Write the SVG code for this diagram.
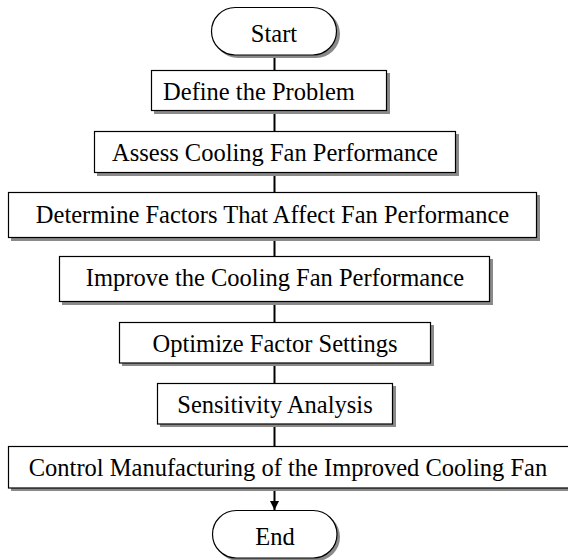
<svg xmlns="http://www.w3.org/2000/svg" width="568" height="560" viewBox="0 0 568 560">
<defs>
<style>
.sh{fill:#8a8a8a;stroke:none}
.bx{fill:#fff;stroke:#000;stroke-width:1.2}
.t{font-family:"Liberation Serif","Times New Roman",serif;font-size:24.5px;fill:#000;text-anchor:middle}
.c{stroke:#000;stroke-width:2;fill:none}
</style>
<marker id="ah" viewBox="0 0 10 10" refX="10" refY="5" markerWidth="4.5" markerHeight="4.5" orient="auto" markerUnits="strokeWidth">
<path d="M0,0 L10,5 L0,10 z" fill="#000"/>
</marker>
</defs>
<rect width="568" height="560" fill="#fff"/>
<g id="connectors">
<line class="c" x1="274.5" y1="55" x2="274.5" y2="70"/>
<line class="c" x1="274.5" y1="111" x2="274.5" y2="131"/>
<line class="c" x1="274.5" y1="173" x2="274.5" y2="192"/>
<line class="c" x1="274.5" y1="238" x2="274.5" y2="256"/>
<line class="c" x1="274.5" y1="302" x2="274.5" y2="322"/>
<line class="c" x1="274.5" y1="363" x2="274.5" y2="383"/>
<line class="c" x1="274.5" y1="424" x2="274.5" y2="446"/>
<line class="c" x1="274.5" y1="488" x2="274.5" y2="510" marker-end="url(#ah)"/>
</g>
<g id="start">
<rect class="sh" x="214" y="10" width="126" height="48" rx="24"/>
<rect class="bx" x="211.5" y="7.5" width="125" height="47.5" rx="23.75"/>
<text class="t" x="274" y="42">Start</text>
</g>
<g id="define">
<rect class="sh" x="154" y="73" width="236" height="41"/>
<rect class="bx" x="151.5" y="70.5" width="235" height="40"/>
<text class="t" x="259" y="100">Define the Problem</text>
</g>
<g id="assess">
<rect class="sh" x="97" y="134" width="362" height="42"/>
<rect class="bx" x="94.5" y="131.5" width="361" height="41"/>
<text class="t" x="275" y="161">Assess Cooling Fan Performance</text>
</g>
<g id="determine">
<rect class="sh" x="11" y="195" width="529" height="46"/>
<rect class="bx" x="8.5" y="192.5" width="528" height="45"/>
<text class="t" x="272.5" y="222.5">Determine Factors That Affect Fan Performance</text>
</g>
<g id="improve">
<rect class="sh" x="62" y="259" width="431" height="46"/>
<rect class="bx" x="59.5" y="256.5" width="430" height="45"/>
<text class="t" x="275" y="286">Improve the Cooling Fan Performance</text>
</g>
<g id="optimize">
<rect class="sh" x="122" y="325" width="312" height="41"/>
<rect class="bx" x="119.5" y="322.5" width="311" height="40.5"/>
<text class="t" x="275" y="351.5">Optimize Factor Settings</text>
</g>
<g id="sensitivity">
<rect class="sh" x="160" y="386" width="236" height="41"/>
<rect class="bx" x="157.5" y="383.5" width="235" height="40.5"/>
<text class="t" x="275" y="413">Sensitivity Analysis</text>
</g>
<g id="control">
<rect class="sh" x="11" y="449" width="562" height="42"/>
<rect class="bx" x="8.5" y="446.5" width="562" height="41.5"/>
<text class="t" x="288" y="475.5">Control Manufacturing of the Improved Cooling Fan</text>
</g>
<g id="end">
<rect class="sh" x="215" y="513" width="125" height="48" rx="24"/>
<rect class="bx" x="212.5" y="510.5" width="124.5" height="47.5" rx="23.75"/>
<text class="t" x="275" y="545">End</text>
</g>
</svg>
